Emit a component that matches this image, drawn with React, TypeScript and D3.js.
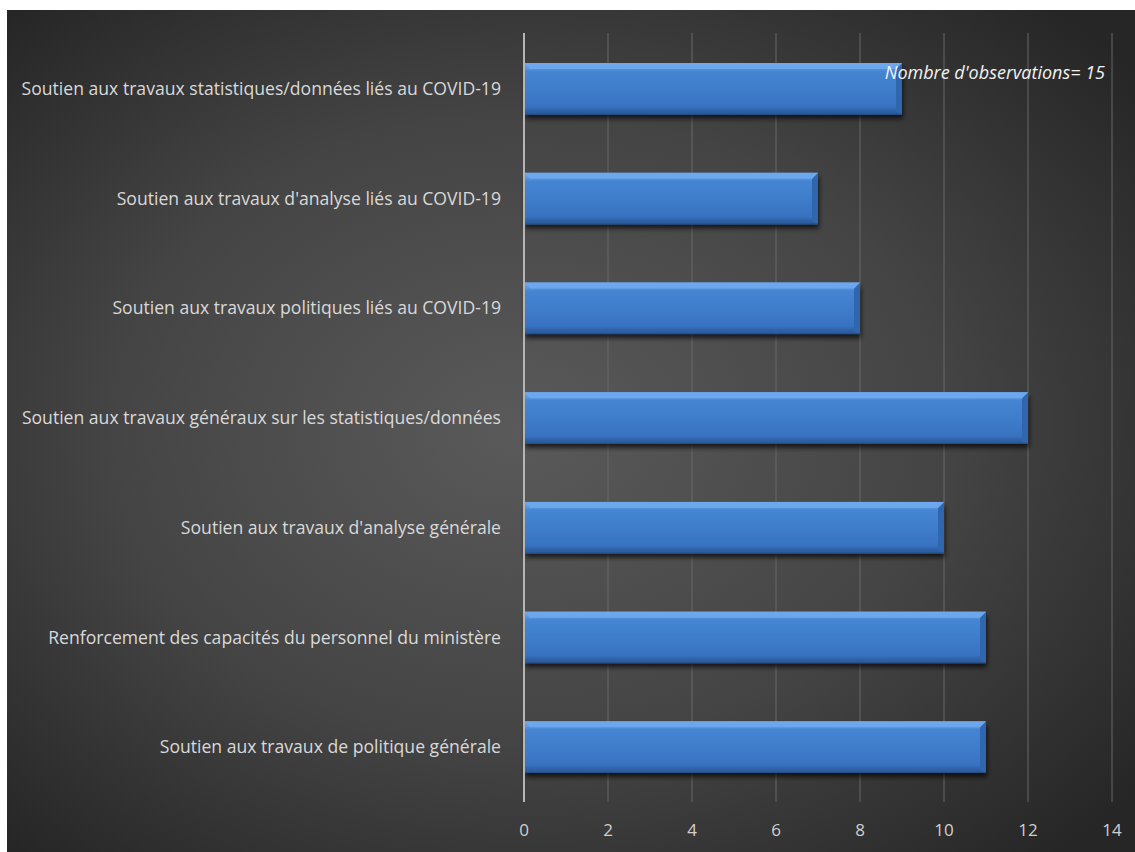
import React from "react";
import * as d3 from "d3";

const categories = [
  "Soutien aux travaux statistiques/données liés au COVID-19",
  "Soutien aux travaux d'analyse liés au COVID-19",
  "Soutien aux travaux politiques liés au COVID-19",
  "Soutien aux travaux généraux sur les statistiques/données",
  "Soutien aux travaux d'analyse générale",
  "Renforcement des capacités du personnel du ministère",
  "Soutien aux travaux de politique générale",
];
const values = [9, 7, 8, 12, 10, 11, 11];
const xTicks = [0, 2, 4, 6, 8, 10, 12, 14];
const note = "Nombre d'observations= 15";

const W = 1135;
const H = 852;

export default function App() {
  const x = d3.scaleLinear().domain([0, 14]).range([524, 1112]);
  const y = d3.scaleBand().domain(categories).range([34, 802]).paddingInner(0.53).paddingOuter(0.265);
  const bh = y.bandwidth();
  const font = "'Open Sans', sans-serif";
  return (
    <svg width={W} height={H} style={{ position: "absolute", left: 0, top: 0, display: "block" }}>
      <defs>
        <radialGradient id="bg" cx="0.47" cy="0.5" r="0.68" fx="0.45" fy="0.5">
          <stop offset="0" stopColor="#5a5a5a" />
          <stop offset="0.55" stopColor="#444444" />
          <stop offset="1" stopColor="#262626" />
        </radialGradient>
        <linearGradient id="bar" x1="0" y1="0" x2="0" y2="1">
          <stop offset="0" stopColor="#6aa6ec" />
          <stop offset="0.1" stopColor="#5b98e2" />
          <stop offset="0.16" stopColor="#4585d2" />
          <stop offset="0.5" stopColor="#3f7dcb" />
          <stop offset="0.85" stopColor="#3872c0" />
          <stop offset="0.92" stopColor="#2f62a8" />
          <stop offset="1" stopColor="#2a5898" />
        </linearGradient>
        <filter id="shadow" x="-5%" y="-20%" width="110%" height="160%">
          <feGaussianBlur in="SourceAlpha" stdDeviation="2.5" />
          <feOffset dx="1" dy="4" result="b" />
          <feComponentTransfer>
            <feFuncA type="linear" slope="0.7" />
          </feComponentTransfer>
          <feMerge>
            <feMergeNode />
            <feMergeNode in="SourceGraphic" />
          </feMerge>
        </filter>
      </defs>
      <rect x={7} y={10} width={W - 7} height={H - 10} fill="url(#bg)" />
      {xTicks.slice(1).map((t) => (
        <line key={t} x1={x(t)} x2={x(t)} y1={33} y2={802} stroke="#6a6a6a" strokeWidth={1.2} opacity={0.8} />
      ))}
      {categories.map((c, i) => {
        const y0 = y(c)!;
        const x0 = x(0);
        const x1 = x(values[i]);
        const bev = 6;
        return (
          <g key={c}>
            <rect x={x0} y={y0} width={x1 - x0} height={bh} fill="url(#bar)" filter="url(#shadow)" />
            <polygon points={`${x1},${y0} ${x1 - bev},${y0 + bev} ${x1 - bev},${y0 + bh - 3} ${x1},${y0 + bh}`} fill="#3066ad" />
            <polygon points={`${x1},${y0} ${x1 - bev},${y0 + bev} ${x0 + bev},${y0 + bev} ${x0},${y0}`} fill="#6fa9ee" opacity={0.85} />
            <line x1={x0} x2={x1} y1={y0 + bh - 0.5} y2={y0 + bh - 0.5} stroke="#27508a" strokeWidth={1} />
            <text x={501} y={y0 + bh / 2} dy="0.35em" textAnchor="end" fill="#d9d9d9" fontFamily={font} fontSize={17.6}>
              {c}
            </text>
          </g>
        );
      })}
      <line x1={x(0)} x2={x(0)} y1={33} y2={802} stroke="#b5b5b5" strokeWidth={2} />
      {xTicks.map((t) => (
        <text key={t} x={x(t)} y={830} dy="0.35em" textAnchor="middle" fill="#d0d0d0" fontFamily={font} fontSize={17}>
          {t}
        </text>
      ))}
      <text x={1105} y={79} textAnchor="end" fill="#f2f2f2" fontFamily={font} fontStyle="italic" fontSize={18}>
        {note}
      </text>
    </svg>
  );
}
